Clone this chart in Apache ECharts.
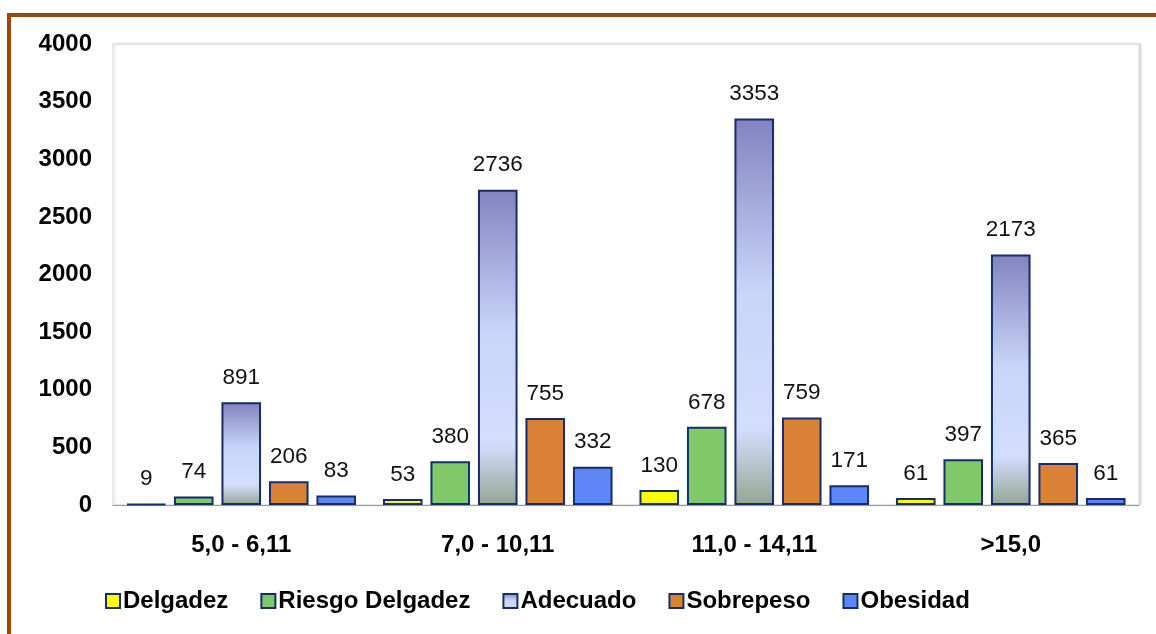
<!DOCTYPE html>
<html>
<head>
<meta charset="utf-8">
<script src="https://cdn.jsdelivr.net/npm/echarts@6/dist/echarts.min.js"></script>
<style>
  html, body { margin: 0; padding: 0; background: #ffffff; }
  #chart { width: 1156px; height: 634px; }
</style>
</head>
<body>
<div id="chart"></div>
<script>
// Age groups (years,months) and counts by nutritional status
const categories = ['5,0 - 6,11', '7,0 - 10,11', '11,0 - 14,11', '>15,0'];
const delgadez = [9, 53, 130, 61];
const riesgoDelgadez = [74, 380, 678, 397];
const adecuado = [891, 2736, 3353, 2173];
const sobrepeso = [206, 755, 759, 365];
const obesidad = [83, 332, 171, 61];
const yTicks = [0, 500, 1000, 1500, 2000, 2500, 3000, 3500, 4000];

const FONT = 'Arial, "Liberation Sans", sans-serif';
const EDGE = '#142d6b';

const adecuadoFill = new echarts.graphic.LinearGradient(0, 0, 0, 1, [
  { offset: 0, color: '#8383c0' },
  { offset: 0.45, color: '#c9d5f8' },
  { offset: 0.8, color: '#d3defc' },
  { offset: 0.88, color: '#bcc8d6' },
  { offset: 1, color: '#93a690' }
]);

function barSeries(name, values, fill) {
  return {
    name: name,
    type: 'bar',
    data: values,
    barGap: '20%',
    barCategoryGap: '10.5%',
    itemStyle: { color: fill, borderColor: EDGE, borderWidth: 2 },
    label: {
      show: true,
      position: 'top',
      distance: 13,
      color: '#111',
      fontFamily: FONT,
      fontSize: 22.5
    }
  };
}

const chart = echarts.init(document.getElementById('chart'), null, { renderer: 'canvas' });
chart.setOption({
  backgroundColor: '#ffffff',
  animation: false,
  graphic: [{
    type: 'rect',
    shape: { x: 9, y: 15, width: 1200, height: 700 },
    style: { fill: 'none', stroke: '#9b4a0b', lineWidth: 4 },
    silent: true
  }],
  grid: {
    left: 113, top: 44, width: 1026, height: 461,
    show: true,
    backgroundColor: '#ffffff',
    borderColor: '#d6d6d6',
    borderWidth: 1,
    shadowColor: 'rgba(0,0,0,0.12)',
    shadowBlur: 2,
    shadowOffsetX: 2,
    shadowOffsetY: 0
  },
  legend: {
    left: 100,
    top: 584,
    icon: 'rect',
    itemWidth: 14,
    itemHeight: 14,
    itemGap: 32,
    textStyle: { fontFamily: FONT, fontSize: 24, fontWeight: 'bold', color: '#000', padding: [0, 0, 0, -2] },
    data: ['Delgadez', 'Riesgo Delgadez', 'Adecuado', 'Sobrepeso', 'Obesidad']
  },
  xAxis: {
    type: 'category',
    data: categories,
    axisLine: { show: true, lineStyle: { color: '#9a9a9a', width: 1 } },
    axisTick: { show: false },
    axisLabel: { margin: 28, fontFamily: FONT, fontSize: 24, fontWeight: 'bold', color: '#000' }
  },
  yAxis: {
    type: 'value',
    min: yTicks[0],
    max: yTicks[yTicks.length - 1],
    interval: 500,
    axisLine: { show: false },
    axisTick: { show: false },
    splitLine: { show: false },
    axisLabel: {
      margin: 21,
      fontFamily: FONT,
      fontSize: 24,
      fontWeight: 'bold',
      color: '#000',
      formatter: function (v) { return String(v); }
    }
  },
  series: [
    barSeries('Delgadez', delgadez, '#ffff00'),
    barSeries('Riesgo Delgadez', riesgoDelgadez, '#80c968'),
    barSeries('Adecuado', adecuado, adecuadoFill),
    barSeries('Sobrepeso', sobrepeso, '#d98236'),
    barSeries('Obesidad', obesidad, '#5f86f6')
  ]
});
</script>
</body>
</html>
